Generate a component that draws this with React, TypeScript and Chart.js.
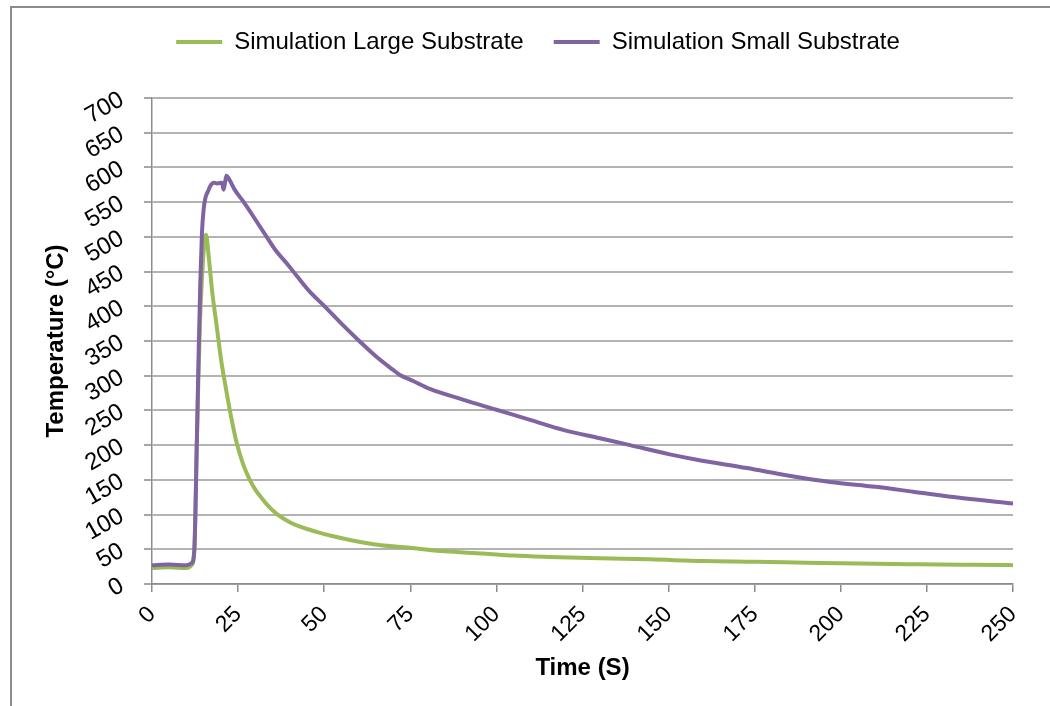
import React, { useEffect, useRef } from 'react';
import { Chart, registerables } from 'chart.js';

Chart.register(...registerables);

const seriesNames = ['Simulation Large Substrate', 'Simulation Small Substrate'];

const xTickValues = [0, 25, 50, 75, 100, 125, 150, 175, 200, 225, 250];
const yTickValues = [0, 50, 100, 150, 200, 250, 300, 350, 400, 450, 500, 550, 600, 650, 700];

const largeTime = [0, 5, 10, 11.5, 12.3, 13, 13.5, 13.9, 14.5, 15.2, 15.7, 16.5, 17.5, 18.8, 20, 21.7, 23, 24.6, 26.5, 28.4, 30, 32.3, 34, 36.2, 40, 43, 47.8, 52, 57.5, 65, 76.9, 85, 96.2, 105, 115.5, 130, 144.6, 160, 175, 190, 205, 220, 235, 249, 250];
const largeTemp = [23, 24, 23, 27, 50, 200, 300, 371, 440, 490, 503, 470, 420, 371, 325, 275, 240, 203, 172, 150, 136, 121, 111, 101, 89, 82.5, 75, 69.5, 63.5, 57, 51, 47, 44, 41, 39, 37, 35.5, 33, 32, 30.7, 29.5, 28.5, 27.8, 27.4, 27];

const smallTime = [0, 5, 10, 11.5, 12.3, 13, 13.5, 14, 14.5, 15, 15.5, 16.3, 17, 18, 19, 20.3, 20.8, 21.2, 21.6, 22.5, 24, 26.5, 30, 33.3, 36, 39.1, 42, 46, 49.7, 55, 60.4, 65, 70.1, 72, 76, 80.7, 90, 100, 110, 119.4, 130, 138.8, 150, 158.2, 172.7, 185, 196.9, 210, 221, 235, 250];
const smallTemp = [27, 28, 27, 30, 50, 200, 323, 430, 505, 540, 556, 566, 574, 578, 577, 578, 568, 578, 588, 582, 568, 551, 525, 500, 480, 462, 444, 420, 402, 375, 349, 328, 308, 301, 292, 281, 266, 251, 236, 222, 210, 200, 187, 179, 167, 156, 147, 140, 133, 124, 116];

const GREEN = '#9BBB59';
const PURPLE = '#8064A2';

export default function App() {
  const ref = useRef<HTMLCanvasElement>(null);

  useEffect(() => {
    Chart.defaults.font.family = "'Liberation Sans', Arial, sans-serif";
    const chart = new Chart(ref.current as HTMLCanvasElement, {
      type: 'line',
      data: {
        datasets: [
          {
            label: seriesNames[1],
            data: smallTime.map((t, i) => ({ x: t, y: smallTemp[i] })),
            borderColor: PURPLE,
            backgroundColor: PURPLE,
            borderWidth: 4,
            pointRadius: 0,
            pointStyle: 'line',
            cubicInterpolationMode: 'monotone',
            fill: false,
          },
          {
            label: seriesNames[0],
            data: largeTime.map((t, i) => ({ x: t, y: largeTemp[i] })),
            borderColor: GREEN,
            backgroundColor: GREEN,
            borderWidth: 4,
            pointRadius: 0,
            pointStyle: 'line',
            cubicInterpolationMode: 'monotone',
            fill: false,
          },
        ],
      },
      options: {
        responsive: false,
        animation: false,
        devicePixelRatio: 1,
        layout: { padding: { left: 63, right: 37, top: 0, bottom: 0 } },
        plugins: {
          legend: {
            position: 'top',
            reverse: true,
            labels: {
              usePointStyle: true,
              pointStyle: 'line',
              pointStyleWidth: 46,
              padding: 30,
              color: '#000',
              font: { size: 24 },
            },
          },
          title: {
            display: true,
            text: '',
            weight: 0,
            padding: { top: 0, bottom: 22 },
            font: { size: 10 },
          },
          tooltip: { enabled: false },
        },
        scales: {
          x: {
            type: 'linear',
            min: 0,
            max: 250,
            afterBuildTicks: (s: any) => {
              s.ticks = xTickValues.map((v) => ({ value: v }));
            },
            afterFit: (s: any) => {
              s.height = 122;
            },
            grid: {
              display: true,
              drawOnChartArea: false,
              drawTicks: true,
              tickLength: 8,
              color: '#8c8c8c',
              lineWidth: 1.5,
            },
            border: { display: true, color: '#8c8c8c', width: 1.5 },
            ticks: {
              autoSkip: false,
              minRotation: 45,
              maxRotation: 45,
              padding: 9,
              color: '#000',
              font: { size: 23 },
            },
            title: {
              display: true,
              text: 'Time (S)',
              color: '#000',
              font: { size: 24, weight: 'bold' },
              padding: { top: 0, bottom: 23.6 },
            },
          },
          y: {
            type: 'linear',
            min: 0,
            max: 700,
            afterBuildTicks: (s: any) => {
              s.ticks = yTickValues.map((v) => ({ value: v }));
            },
            afterFit: (s: any) => {
              s.width = 89;
            },
            grid: {
              display: true,
              drawTicks: true,
              tickLength: 8,
              color: '#b3b3b3',
              tickColor: '#a6a6a6',
              lineWidth: 2,
            },
            border: { display: true, color: '#8c8c8c', width: 1.5 },
            ticks: {
              autoSkip: false,
              minRotation: 30,
              maxRotation: 30,
              padding: 22,
              color: '#000',
              font: { size: 24 },
            },
            title: {
              display: true,
              text: 'Temperature (°C)',
              color: '#000',
              font: { size: 24, weight: 'bold' },
              padding: { top: -21.4, bottom: 0 },
            },
          },
        },
      },
    } as any);
    return () => chart.destroy();
  }, []);

  return (
    <div style={{ position: 'absolute', left: 0, top: 0, width: 1050, height: 706, overflow: 'hidden', background: '#fff' }}>
      <div
        style={{
          position: 'absolute',
          left: 10,
          top: 6,
          width: 1200,
          height: 900,
          borderTop: '2px solid #8c8c8c',
          borderLeft: '2px solid #8c8c8c',
        }}
      />
      <canvas ref={ref} width={1050} height={706} style={{ position: 'absolute', left: 0, top: 0 }} />
    </div>
  );
}
